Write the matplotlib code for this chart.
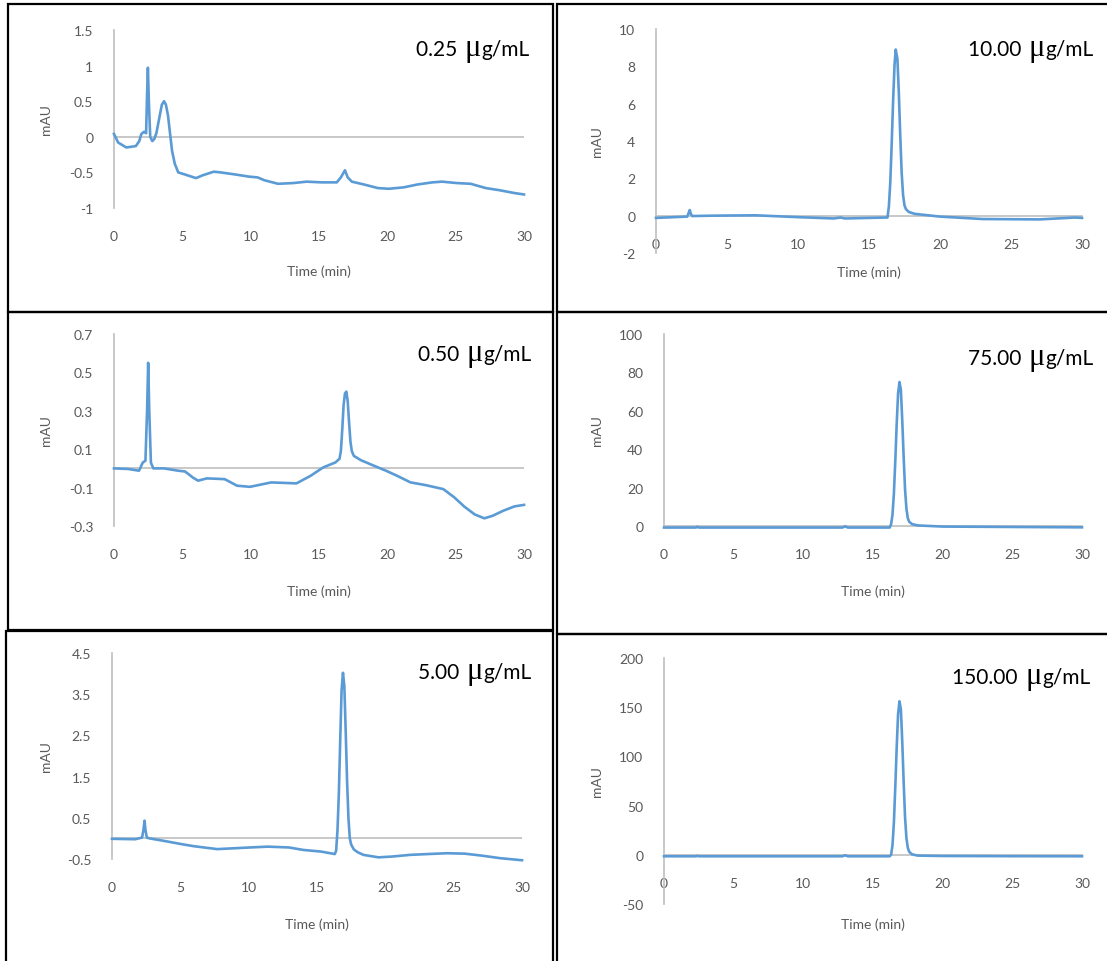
import matplotlib.pyplot as plt
from matplotlib.patches import Rectangle

# chromatogram traces: (time in min, mAU)
trace_025 = [(0, 0.04), (0.3, -0.08), (0.9, -0.15), (1.6, -0.13), (1.85, -0.06), (2.0, 0.04),
             (2.2, 0.07), (2.35, 0.05), (2.42, 0.6), (2.48, 0.97), (2.55, 0.5), (2.65, 0.0),
             (2.8, -0.06), (2.95, -0.03), (3.1, 0.05), (3.3, 0.25), (3.5, 0.45), (3.66, 0.5),
             (3.8, 0.45), (3.95, 0.3), (4.1, 0.05), (4.25, -0.2), (4.45, -0.38), (4.7, -0.5),
             (5.2, -0.53), (6.0, -0.58), (6.5, -0.54), (7.3, -0.49), (7.8, -0.5), (8.9, -0.53),
             (9.9, -0.56), (10.5, -0.57), (11.0, -0.61), (12.0, -0.66), (13.1, -0.65),
             (14.1, -0.63), (15.2, -0.64), (16.3, -0.64), (16.6, -0.57), (16.9, -0.47),
             (17.1, -0.57), (17.4, -0.63), (18.3, -0.67), (19.3, -0.72), (20.1, -0.73),
             (21.2, -0.71), (22.2, -0.67), (23.3, -0.64), (24.0, -0.63), (25.1, -0.65),
             (26.1, -0.66), (27.2, -0.72), (28.2, -0.75), (29.3, -0.79), (30, -0.81)]

trace_050 = [(0, 0.0), (1.05, -0.003), (1.83, -0.012), (2.1, 0.03), (2.3, 0.04), (2.42, 0.3),
             (2.5, 0.55), (2.58, 0.3), (2.7, 0.03), (2.88, 0.0), (3.66, 0.0), (4.7, -0.012),
             (5.2, -0.016), (5.76, -0.047), (6.15, -0.064), (6.8, -0.052), (8.1, -0.056),
             (9.0, -0.09), (9.95, -0.096), (11.5, -0.073), (13.35, -0.078), (14.4, -0.038),
             (15.3, 0.005), (16.2, 0.031), (16.5, 0.05), (16.6, 0.09), (16.7, 0.2), (16.8, 0.33),
             (16.9, 0.39), (17.0, 0.40), (17.1, 0.35), (17.2, 0.24), (17.3, 0.14), (17.4, 0.09),
             (17.55, 0.065), (18.06, 0.043), (18.85, 0.019), (19.9, -0.012), (20.7, -0.038),
             (21.7, -0.073), (22.8, -0.087), (24.1, -0.108), (24.9, -0.151), (25.65, -0.2),
             (26.4, -0.24), (27.1, -0.26), (27.7, -0.247), (28.5, -0.22), (29.3, -0.198), (30, -0.19)]

trace_500 = [(0, -0.01), (1.7, -0.02), (2.2, 0.02), (2.3, 0.2), (2.38, 0.43), (2.45, 0.2),
             (2.55, 0.02), (2.75, 0.0), (3.8, -0.06), (5.1, -0.14), (6.0, -0.19), (7.7, -0.26),
             (10.1, -0.22), (11.4, -0.2), (12.95, -0.22), (14.0, -0.28), (15.3, -0.32),
             (16.3, -0.38), (16.4, -0.3), (16.5, 0.2), (16.6, 1.1), (16.7, 2.4), (16.8, 3.6),
             (16.9, 4.02), (17.0, 3.7), (17.1, 2.6), (17.2, 1.4), (17.3, 0.5), (17.4, 0.0),
             (17.5, -0.15), (17.7, -0.27), (18.0, -0.34), (18.4, -0.4), (19.5, -0.46),
             (20.5, -0.44), (21.8, -0.4), (23.1, -0.38), (24.5, -0.36), (25.8, -0.37),
             (27.1, -0.42), (28.4, -0.48), (30, -0.53)]

trace_1000 = [(0, -0.12), (2.2, -0.05), (2.3, 0.15), (2.38, 0.3), (2.45, 0.1), (2.55, -0.02),
              (4, 0.0), (7, 0.02), (10, -0.08), (12.5, -0.15), (13, -0.1), (13.3, -0.15),
              (16.2, -0.1), (16.3, -0.1), (16.4, 0.5), (16.5, 1.8), (16.6, 3.9), (16.7, 6.2),
              (16.8, 8.1), (16.88, 8.9), (17.0, 8.4), (17.1, 6.6), (17.2, 4.3), (17.3, 2.3),
              (17.4, 1.1), (17.5, 0.55), (17.6, 0.35), (17.8, 0.2), (18.2, 0.1), (20, -0.05),
              (23, -0.18), (27, -0.2), (29.5, -0.1), (30, -0.12)]

trace_7500 = [(0, -0.8), (2.3, -0.8), (2.4, -0.4), (2.5, -0.8), (12.8, -0.8), (13.0, -0.2),
              (13.2, -0.8), (16.2, -0.8), (16.3, 1), (16.4, 6), (16.5, 17), (16.6, 34),
              (16.7, 53), (16.8, 69), (16.9, 75), (17.0, 71), (17.1, 55), (17.2, 36), (17.3, 19),
              (17.4, 9), (17.5, 4), (17.6, 2.2), (17.8, 1.0), (18.2, 0.3), (20, -0.3),
              (25, -0.5), (30, -0.7)]

trace_15000 = [(0, -1.5), (2.3, -1.5), (2.4, -1.0), (2.5, -1.5), (12.8, -1.5), (13.0, -0.5),
               (13.2, -1.5), (16.2, -1.5), (16.3, 0), (16.4, 10), (16.5, 33), (16.6, 69),
               (16.7, 109), (16.8, 143), (16.9, 156), (17.0, 148), (17.1, 115), (17.2, 74),
               (17.3, 38), (17.4, 17), (17.5, 7), (17.6, 3), (17.8, 0.5), (18.2, -0.8),
               (20, -1.2), (25, -1.4), (30, -1.5)]

concentrations = ['0.25', '10.00', '0.50', '75.00', '5.00', '150.00']
traces = [trace_025, trace_1000, trace_050, trace_7500, trace_500, trace_15000]
ylims = [(-1, 1.5), (-2, 10), (-0.3, 0.7), (0, 100), (-0.5, 4.5), (-50, 200)]
yticks = [[-1, -0.5, 0, 0.5, 1, 1.5],
          [-2, 0, 2, 4, 6, 8, 10],
          [-0.3, -0.1, 0.1, 0.3, 0.5, 0.7],
          [0, 20, 40, 60, 80, 100],
          [-0.5, 0.5, 1.5, 2.5, 3.5, 4.5],
          [-50, 0, 50, 100, 150, 200]]
ytick_labels = [['-1', '-0.5', '0', '0.5', '1', '1.5'],
                ['-2', '0', '2', '4', '6', '8', '10'],
                ['-0.3', '-0.1', '0.1', '0.3', '0.5', '0.7'],
                ['0', '20', '40', '60', '80', '100'],
                ['-0.5', '0.5', '1.5', '2.5', '3.5', '4.5'],
                ['-50', '0', '50', '100', '150', '200']]
xticks = [0, 5, 10, 15, 20, 25, 30]

# layout in pixels: plot area (x0, x1, ytop, ybot), x label y, y label x, title right/y,
# and whether the x labels sit on the zero line
layout = [
    dict(box=(114, 524, 31, 209), xlab=272, ylab=46, title=(530, 48), on_zero=False),
    dict(box=(656, 1082, 30, 254), xlab=273, ylab=597, title=(1094, 48), on_zero=True),
    dict(box=(114, 524, 335, 527), xlab=592, ylab=46, title=(532, 353), on_zero=False),
    dict(box=(664, 1082, 335, 527), xlab=592, ylab=597, title=(1094, 357), on_zero=True),
    dict(box=(112, 522, 654, 860), xlab=925, ylab=46, title=(532, 671), on_zero=False),
    dict(box=(664, 1082, 659, 905), xlab=925, ylab=597, title=(1091, 676), on_zero=True),
]
frames = [(7.5, 553, 5, 313), (557, 1112, 5, 313), (7.5, 553, 313, 631),
          (557, 1112, 313, 635), (5.5, 553, 632, 967), (557, 1112, 635, 967)]

plt.rcParams['font.family'] = ['Lato', 'DejaVu Sans']
W, H = 1107, 962
fig = plt.figure(figsize=(W / 100, H / 100), dpi=100)
renderer = fig.canvas.get_renderer()

blue = '#5B9BD5'
grey_text = '#595959'
grey_line = '#BFBFBF'


def right_text(x_px, y_px, s, **kw):
    # place text with its right edge at x_px and return the left edge in pixels
    txt = fig.text(x_px / W, 1 - y_px / H, s, ha='right', va='baseline', **kw)
    bb = txt.get_window_extent(renderer)
    return bb.x0


for i, lay in enumerate(layout):
    x0, x1, ytop, ybot = lay['box']
    ax = fig.add_axes([x0 / W, 1 - ybot / H, (x1 - x0) / W, (ybot - ytop) / H])
    t = [p[0] for p in traces[i]]
    v = [p[1] for p in traces[i]]
    ax.plot(t, v, color=blue, lw=1.9, solid_joinstyle='round', zorder=3, clip_on=False)
    ax.set_xlim(0, 30)
    ax.set_ylim(*ylims[i])
    ax.set_xticks(xticks)
    ax.set_xticklabels([str(x) for x in xticks])
    ax.set_yticks(yticks[i])
    ax.set_yticklabels(ytick_labels[i])
    ax.tick_params(length=0, colors=grey_text, labelsize=10)
    ax.tick_params(axis='y', pad=15)
    ax.tick_params(axis='x', pad=16)
    ax.patch.set_visible(False)
    ax.spines['top'].set_visible(False)
    ax.spines['right'].set_visible(False)
    ax.spines['left'].set_color(grey_line)
    ax.spines['left'].set_linewidth(1.2)
    if lay['on_zero']:
        ax.spines['bottom'].set_position(('data', 0))
        ax.spines['bottom'].set_color(grey_line)
        ax.spines['bottom'].set_linewidth(1.2)
    else:
        ax.spines['bottom'].set_visible(False)
        ax.axhline(0, color=grey_line, lw=1.2, zorder=2)

    fig.text((x0 + x1) / 2 / W, 1 - lay['xlab'] / H, 'Time (min)', ha='center', va='center',
             color=grey_text, fontsize=10)
    fig.text(lay['ylab'] / W, 1 - (ytop + ybot) / 2 / H, 'mAU', ha='center', va='center',
             rotation=90, color=grey_text, fontsize=10)

    # title: "<conc> μg/mL" with a larger serif μ, built right to left
    tx, ty = lay['title']
    base = ty + 8
    left = right_text(tx, base, 'g/mL', color='black', fontsize=15)
    left = right_text(left - 1, base, 'μ', color='black', fontsize=22,
                      family='Liberation Serif')
    right_text(left - 2, base, concentrations[i] + ' ', color='black', fontsize=15)

# black frames round each chart
for fx0, fx1, fy0, fy1 in frames:
    fig.add_artist(Rectangle((fx0 / W, 1 - fy1 / H), (fx1 - fx0) / W, (fy1 - fy0) / H,
                             transform=fig.transFigure, fill=False, edgecolor='black',
                             lw=1.6, clip_on=False))

fig.savefig('out.png', dpi=100)
